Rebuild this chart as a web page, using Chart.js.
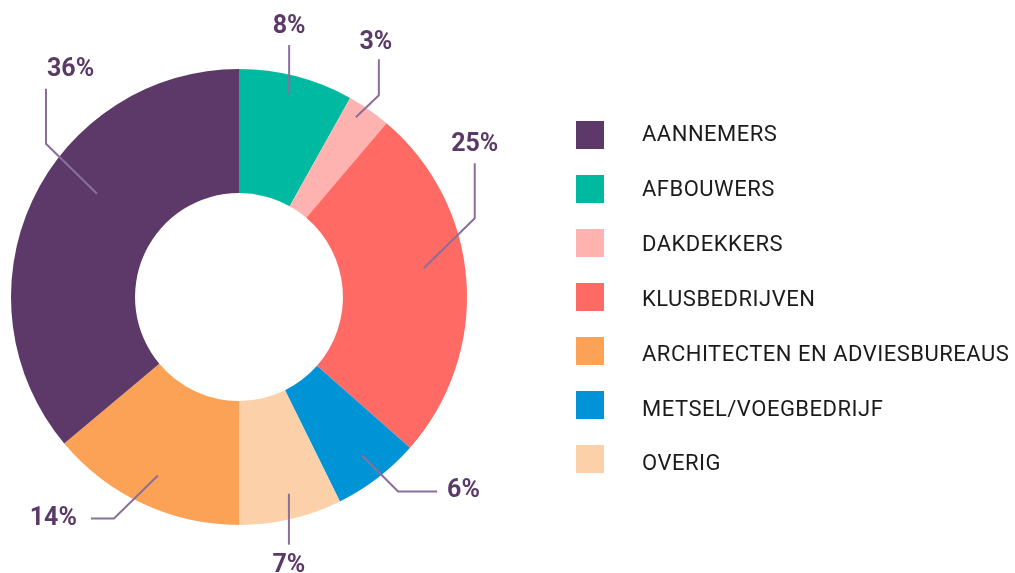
<!DOCTYPE html>
<html>
<head>
<meta charset="utf-8">
<script src="https://cdn.jsdelivr.net/npm/chart.js@4"></script>
<style>
  html, body { margin: 0; padding: 0; background: #ffffff; }
  #wrap { width: 1015px; height: 573px; position: relative; }
</style>
</head>
<body>
<div id="wrap"><canvas id="sectorChart"></canvas></div>
<script>
// chart order, clockwise from 12 o'clock
const categories = ['AFBOUWERS', 'DAKDEKKERS', 'KLUSBEDRIJVEN', 'METSEL/VOEGBEDRIJF', 'OVERIG', 'ARCHITECTEN EN ADVIESBUREAUS', 'AANNEMERS'];
const shares = [8.1, 3.1, 25.3, 6.2, 7.3, 13.9, 36.1];
const colors = ['#00b9a1', '#ffb3b0', '#ff6a64', '#0093d6', '#fcd0a9', '#fba257', '#5c3968'];
// order of the legend on the right
const legendOrder = ['AANNEMERS', 'AFBOUWERS', 'DAKDEKKERS', 'KLUSBEDRIJVEN', 'ARCHITECTEN EN ADVIESBUREAUS', 'METSEL/VOEGBEDRIJF', 'OVERIG'];

// leader lines: start on the arc (angle shift in degrees, radius fraction), then relative segments, label offset from line end
const leaders = [
    { shift: -0.7, r: 0.917, path: [[0, -49]], label: [0, -12], align: 'center' },
    { shift: -1.7, r: 0.94, path: [[23, -22], [0, -36]], label: [-3, -10], align: 'center' },
    { shift: -4.7, r: 0.82, path: [[51, -50], [0, -55]], label: [0, -12], align: 'center' },
    { shift: -0.4, r: 0.88, path: [[36, 36], [39, 0]], label: [10, 6], align: 'left' },
    { shift: -1.1, r: 0.89, path: [[0, 51]], label: [0, 27], align: 'center' },
    { shift: -0.6, r: 0.86, path: [[-44, 43], [-23, 0]], label: [-14, 6], align: 'right' },
    { shift: 11, r: 0.77, path: [[-51, -50], [0, -55]], label: [1, -13], align: 'left' }
];

const leaderLabels = {
    id: 'leaderLabels',
    afterDatasetsDraw(chart) {
        const ctx = chart.ctx;
        const arcs = chart.getDatasetMeta(0).data;
        ctx.save();
        arcs.forEach(function (arc, i) {
            const p = arc.getProps(['x', 'y', 'startAngle', 'endAngle', 'outerRadius'], true);
            const cfg = leaders[i];
            const a = (p.startAngle + p.endAngle) / 2 + cfg.shift * Math.PI / 180;
            let x = p.x + Math.cos(a) * p.outerRadius * cfg.r;
            let y = p.y + Math.sin(a) * p.outerRadius * cfg.r;
            ctx.beginPath();
            ctx.moveTo(x, y);
            cfg.path.forEach(function (seg) {
                x += seg[0];
                y += seg[1];
                ctx.lineTo(x, y);
            });
            ctx.strokeStyle = '#8a6f98';
            ctx.lineWidth = 2;
            ctx.stroke();

            ctx.fillStyle = '#5b3a68';
            ctx.font = 'bold 25px Roboto';
            ctx.textAlign = cfg.align;
            ctx.textBaseline = 'alphabetic';
            ctx.fillText(Math.round(shares[i]) + '%', x + cfg.label[0], y + cfg.label[1]);
        });
        ctx.restore();
    }
};

const sideLegend = {
    id: 'sideLegend',
    afterDraw(chart) {
        const ctx = chart.ctx;
        ctx.save();
        legendOrder.forEach(function (name, row) {
            const idx = categories.indexOf(name);
            const top = 121 + row * 54;
            ctx.fillStyle = colors[idx];
            ctx.fillRect(576, top, 28, 28);
            ctx.fillStyle = '#1b1b1b';
            ctx.font = '22px Roboto';
            ctx.letterSpacing = '0.5px';
            ctx.textAlign = 'left';
            ctx.textBaseline = 'alphabetic';
            ctx.fillText(name, 642, 141 + row * 54.9);
        });
        ctx.restore();
    }
};

new Chart(document.getElementById('sectorChart'), {
    type: 'doughnut',
    data: {
        labels: categories,
        datasets: [{
            data: shares,
            backgroundColor: colors,
            borderWidth: 0,
            hoverOffset: 0
        }]
    },
    options: {
        responsive: true,
        maintainAspectRatio: false,
        animation: false,
        cutout: '45.6%',
        layout: {
            padding: { left: 11, top: 69, right: 548, bottom: 48 }
        },
        plugins: {
            legend: { display: false },
            tooltip: { enabled: false }
        }
    },
    plugins: [leaderLabels, sideLegend]
});
</script>
</body>
</html>
